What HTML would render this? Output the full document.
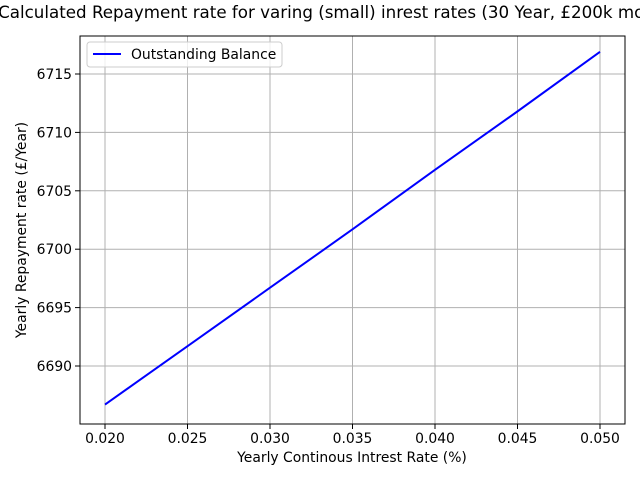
<!DOCTYPE html>
<html><head><meta charset="utf-8"><style>body{margin:0;background:#fff}svg{display:block;font-family:"DejaVu Sans","Liberation Sans",sans-serif}</style></head>
<body>
<svg id="chart" width="640" height="480" viewBox="0 0 640 480" xmlns="http://www.w3.org/2000/svg">
<rect width="640" height="480" fill="#fff"/>
<g id="grid"></g>
<g id="ticks"></g>
<path id="line" fill="none" stroke="#0000ff" stroke-width="2"/>
<rect x="80" y="36" width="545" height="388" fill="none" stroke="#000" stroke-width="1"/>
<text x="352" y="18" font-size="16.7" text-anchor="middle">Calculated Repayment rate for varing (small) inrest rates (30 Year, £200k mortgage)</text>
<text x="352" y="462" font-size="13.9" text-anchor="middle">Yearly Continous Intrest Rate (%)</text>
<text transform="translate(26,230) rotate(-90)" font-size="13.9" text-anchor="middle">Yearly Repayment rate (£/Year)</text>
<g>
<rect x="87" y="42" width="195" height="25" rx="3" fill="#fff" fill-opacity="0.8" stroke="#ccc"/>
<line x1="93" y1="54" x2="121" y2="54" stroke="#0000ff" stroke-width="2"/>
<text x="131" y="59" font-size="13.9">Outstanding Balance</text>
</g>
</svg>
<script>
const rates = [0.020, 0.025, 0.030, 0.035, 0.040, 0.045, 0.050];
const repayments = [6686.7, 6691.7, 6696.7, 6701.7, 6706.8, 6711.8, 6716.9];
const xTicks = [0.020, 0.025, 0.030, 0.035, 0.040, 0.045, 0.050];
const xTickLabels = ["0.020","0.025","0.030","0.035","0.040","0.045","0.050"];
const yTicks = [6690, 6695, 6700, 6705, 6710, 6715];
const yTickLabels = ["6690","6695","6700","6705","6710","6715"];

const X = v => 105 + (v - 0.02) / 0.03 * 495;
const Y = v => 366 - (v - 6690) / 25 * 292;
const ns = "http://www.w3.org/2000/svg";
const grid = document.getElementById('grid'), ticks = document.getElementById('ticks');
function mk(tag, attrs, parent){const e=document.createElementNS(ns,tag);for(const k in attrs)e.setAttribute(k,attrs[k]);parent.appendChild(e);return e;}
xTicks.forEach((t,i)=>{
  const x=X(t);
  const g=mk('line',{x1:x,x2:x,y1:36,y2:424,stroke:'#b0b0b0','stroke-width':1},grid);
  
  
  mk('line',{x1:x,x2:x,y1:424,y2:429,stroke:'#000','stroke-width':1},ticks);
  const tx=mk('text',{x:x,y:443,'font-size':13.9,'text-anchor':'middle'},ticks);
  tx.textContent=xTickLabels[i];
  
  
});
yTicks.forEach((t,i)=>{
  const y=Y(t);
  const g=mk('line',{x1:80,x2:625,y1:y,y2:y,stroke:'#b0b0b0','stroke-width':1},grid);
  
  
  mk('line',{x1:75,x2:80,y1:y,y2:y,stroke:'#000','stroke-width':1},ticks);
  const tx=mk('text',{x:72,y:y+5,'font-size':13.9,'text-anchor':'end'},ticks);
  tx.textContent=yTickLabels[i];
  
  
});
document.getElementById('line').setAttribute('d', rates.map((r,i)=>(i?'L':'M')+X(r)+','+Y(repayments[i])).join(''));
</script>
</body></html>
